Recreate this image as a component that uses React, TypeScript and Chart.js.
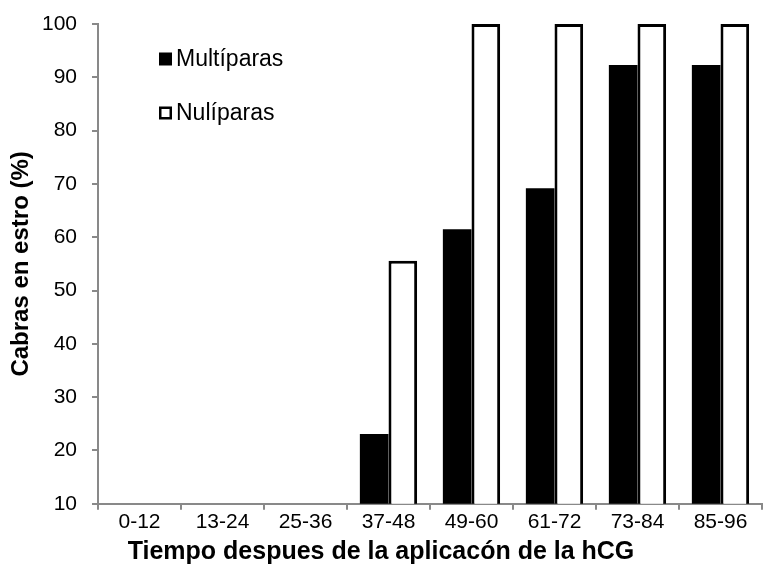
import React, { useEffect, useRef } from "react";
import { Chart, registerables } from "chart.js";

Chart.register(...registerables);

const categories = ["0-12", "13-24", "25-36", "37-48", "49-60", "61-72", "73-84", "85-96"];
const multiparas = [0, 0, 0, 23.1, 61.5, 69.2, 92.3, 92.3];
const nuliparas = [0, 0, 0, 55.6, 100, 100, 100, 100];
const seriesLabels = ["Multíparas", "Nulíparas"];
const yTitle = "Cabras en estro (%)";
const xTitle = "Tiempo despues de la aplicacón de la hCG";

const FONT = "'Liberation Sans', Arial, sans-serif";

const insideLegend = {
  id: "insideLegend",
  afterDraw(chart: any) {
    const ctx = chart.ctx;
    const x0 = chart.chartArea.left + 61;
    const ys = [59, 113];
    ctx.save();
    chart.data.datasets.forEach((ds: any, i: number) => {
      const y = ys[i];
      const s = 13;
      ctx.fillStyle = ds.backgroundColor;
      ctx.fillRect(x0, y - s / 2, s, s);
      if (ds.borderWidth > 0) {
        ctx.strokeStyle = ds.borderColor;
        ctx.lineWidth = 2.5;
        ctx.strokeRect(x0 + 1.25, y - s / 2 + 1.25, s - 2.5, s - 2.5);
      }
      ctx.fillStyle = "#000";
      ctx.font = `23px ${FONT}`;
      ctx.textAlign = "left";
      ctx.textBaseline = "middle";
      ctx.fillText(ds.label, x0 + 17, y + 1);
    });
    ctx.restore();
  },
};

export default function App() {
  const ref = useRef<HTMLCanvasElement>(null);
  useEffect(() => {
    document.body.style.margin = "0";
    const chart = new Chart(ref.current!, {
      type: "bar",
      data: {
        labels: categories,
        datasets: [
          {
            label: seriesLabels[0],
            data: multiparas,
            backgroundColor: "#000000",
            borderColor: "#000000",
            borderWidth: 0,
            barPercentage: 1,
            categoryPercentage: 0.69,
          },
          {
            label: seriesLabels[1],
            data: nuliparas,
            backgroundColor: "#ffffff",
            borderColor: "#000000",
            borderWidth: 3,
            borderSkipped: false,
            barPercentage: 1,
            categoryPercentage: 0.69,
          },
        ],
      },
      options: {
        animation: false,
        responsive: false,
        maintainAspectRatio: false,
        layout: { padding: { left: 0, right: 2, top: 24, bottom: 0 } },
        plugins: {
          legend: { display: false },
          tooltip: { enabled: false },
          title: {
            display: true,
            position: "bottom",
            text: xTitle,
            color: "#000",
            font: { family: FONT, size: 25, weight: "bold" },
            padding: { top: 2, bottom: 0 },
          },
        },
        scales: {
          x: {
            grid: {
              drawOnChartArea: false,
              drawTicks: true,
              tickLength: 6,
              color: "#898989",
              lineWidth: 2,
              offset: true,
            },
            border: { color: "#898989", width: 2 },
            ticks: { color: "#000", font: { family: FONT, size: 21 }, padding: 0, maxRotation: 0 },
          },
          y: {
            min: 10,
            max: 100,
            afterFit: (scale: any) => {
              scale.width = 98;
              scale.paddingTop = 0;
              scale.paddingBottom = 0;
            },
            grid: {
              drawOnChartArea: false,
              drawTicks: true,
              tickLength: 6,
              color: "#898989",
              lineWidth: 2,
            },
            border: { color: "#898989", width: 2 },
            ticks: { stepSize: 10, color: "#000", font: { family: FONT, size: 21 }, padding: 15 },
            title: {
              display: true,
              text: yTitle,
              color: "#000",
              font: { family: FONT, size: 24, weight: "bold" },
              padding: { top: 7, bottom: 0 },
            },
          },
        },
      },
      plugins: [insideLegend],
    });
    return () => chart.destroy();
  }, []);
  return (
    <div style={{ width: 764, height: 567 }}>
      <canvas ref={ref} width={764} height={567} style={{ display: "block", width: 764, height: 567 }} />
    </div>
  );
}
